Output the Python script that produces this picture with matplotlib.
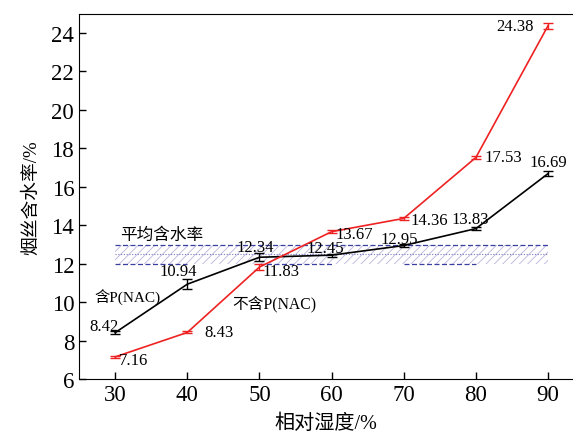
import matplotlib
matplotlib.use("Agg")
import matplotlib.pyplot as plt

plt.rcParams['font.family'] = ['Liberation Serif', 'Noto Sans CJK SC']
plt.rcParams['hatch.linewidth'] = 0.6

humidity = [30, 40, 50, 60, 70, 80, 90]
with_nac = [8.42, 10.94, 12.34, 12.45, 12.95, 13.83, 16.69]
with_nac_err = [0.08, 0.25, 0.2, 0.08, 0.1, 0.08, 0.12]
without_nac = [7.16, 8.43, 11.83, 13.67, 14.36, 17.53, 24.38]
without_nac_err = [0.05, 0.05, 0.15, 0.08, 0.08, 0.1, 0.15]

band_low, band_mid, band_high = 12.0, 12.5, 13.0

# label centre offsets (points) for each value
with_offsets = [(-8.3, 5), (-6.5, 9.4), (-2.9, 7.2), (-4.3, 5), (-3.6, 5), (-4.3, 7.2), (0, 8)]
without_offsets = [(3, -2), (12, 0), (2, -3), (3, -2), (5, -1), (6, 0), (-10, 0)]
without_align = ['left', 'left', 'left', 'left', 'left', 'left', 'right']

fig = plt.figure(figsize=(5.73, 4.35), dpi=100)
ax = fig.add_axes([0.138, 0.126, 0.86, 0.84])

# average moisture band
ax.fill_between([30, 90], band_low, band_high, facecolor='none', edgecolor='#b9b4dc',
                hatch='////', linewidth=0)
ax.plot([30, 90], [band_high, band_high], color='#3a3fa0', linestyle=(0, (4, 2)), linewidth=0.9)
ax.plot([30, 90], [band_mid, band_mid], color='#7a7cc0', linestyle=(0, (1, 1.5)), linewidth=0.8)
for seg in [(30, 40), (50, 60), (70, 80)]:
    ax.plot(seg, [band_low, band_low], color='#3a3fa0', linestyle=(0, (4, 2)), linewidth=0.9)

ax.errorbar(humidity, with_nac, yerr=with_nac_err, color='black', linewidth=1.2,
            capsize=3.5, elinewidth=1, capthick=1)
ax.errorbar(humidity, without_nac, yerr=without_nac_err, color='#ee2222', linewidth=1.2,
            capsize=3.5, elinewidth=1, capthick=1)

for x, y, off in zip(humidity, with_nac, with_offsets):
    ax.annotate(f'{y:.2f}', (x, y), xytext=off, textcoords='offset points',
                ha='center', va='center', fontsize=12)
for x, y, off, ha in zip(humidity, without_nac, without_offsets, without_align):
    ax.annotate(f'{y:.2f}', (x, y), xytext=off, textcoords='offset points',
                ha=ha, va='center', fontsize=12)

ax.text(30.7, 13.1, '平均含水率', fontsize=12, ha='left', va='bottom')
ax.text(31.75, 10.25, '含P(NAC)', fontsize=11, ha='center', va='center')
ax.text(52.1, 9.95, '不含P(NAC)', fontsize=11.3, ha='center', va='center')

ax.set_xlim(25, 93.3)
ax.set_ylim(6, 25)
ax.set_xticks(humidity)
ax.set_yticks(range(6, 25, 2))
ax.tick_params(direction='in', labelsize=16.5, length=5, width=1)
ax.spines['right'].set_visible(False)
ax.set_xlabel('相对湿度/%', fontsize=14.5, labelpad=6)
ax.set_ylabel('烟丝含水率/%', fontsize=13.5, labelpad=8)

fig.savefig('out.png', dpi=100)
